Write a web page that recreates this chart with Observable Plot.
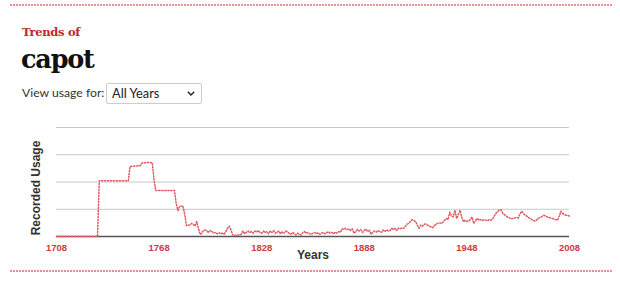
<!DOCTYPE html>
<html>
<head>
<meta charset="utf-8">
<script src="https://cdn.jsdelivr.net/npm/d3@7"></script>
<script src="https://cdn.jsdelivr.net/npm/@observablehq/plot@0.6"></script>
<style>
  html, body { margin: 0; padding: 0; background: #fff; }
  body { width: 620px; height: 282px; position: relative; overflow: hidden; }
  .rule { position: absolute; left: 10px; display: block; }
  .kicker { position: absolute; left: 22px; top: 27px; font-family: "DejaVu Serif", serif; font-weight: bold; font-size: 11.5px; line-height: 1; color: #c0272d; letter-spacing: -0.3px; }
  .word { position: absolute; left: 21px; top: 47px; font-family: "DejaVu Serif", serif; font-weight: bold; font-size: 25.5px; line-height: 1; color: #111; letter-spacing: -1.2px; }
  .view { position: absolute; left: 22px; top: 87px; font: 12.2px/1 Lato, "Open Sans", sans-serif; color: #333; }
  .sel { position: absolute; left: 106px; top: 83px; width: 94px; height: 19px; border: 1px solid #ccc; border-radius: 2px; background: #fff; box-sizing: content-box; font: 12.8px/19px Lato, "Open Sans", sans-serif; color: #222; }
  .sel span { position: absolute; left: 5px; top: 0; }
  .sel svg { position: absolute; right: 6px; top: 7px; }
  #chart { position: absolute; left: 0; top: 110px; }
</style>
</head>
<body>
<svg class="rule" style="top:4px" width="603" height="2"><line x1="0" y1="1" x2="603" y2="1" stroke="#d2202c" stroke-width="1.1" stroke-dasharray="2,1"/></svg>
<div class="kicker">Trends of</div>
<div class="word">capot</div>
<div class="view">View usage for:</div>
<div class="sel"><span>All Years</span><svg width="8" height="5" viewBox="0 0 8 5"><path d="M0.8 0.8 L4 4 L7.2 0.8" fill="none" stroke="#222" stroke-width="1.4"/></svg></div>
<div id="chart"></div>
<svg class="rule" style="top:270px" width="603" height="2"><line x1="0" y1="1" x2="603" y2="1" stroke="#d2202c" stroke-width="1.1" stroke-dasharray="2,1"/></svg>
<script>
const years = [1708,1732,1733,1750,1751,1757,1758,1763,1764,1765,1766,1777,1778,1779,1780,1782,1783,1784,1786,1787,1788,1789,1790,1791,1792,1793,1794,1795,1796,1797,1798,1799,1800,1801,1802,1803,1804,1805,1806,1807,1808,1809,1810,1811,1812,1813,1814,1815,1816,1817,1818,1819,1820,1821,1822,1823,1824,1825,1826,1827,1828,1829,1830,1831,1832,1833,1834,1835,1836,1837,1838,1839,1840,1841,1842,1843,1844,1845,1846,1847,1848,1849,1850,1851,1852,1853,1854,1855,1856,1857,1858,1859,1860,1861,1862,1863,1864,1865,1866,1867,1868,1869,1870,1871,1872,1873,1874,1875,1876,1877,1878,1879,1880,1881,1882,1883,1884,1885,1886,1887,1888,1889,1890,1891,1892,1893,1894,1895,1896,1897,1898,1899,1900,1901,1902,1903,1904,1905,1906,1907,1908,1909,1910,1911,1912,1913,1914,1915,1916,1917,1918,1919,1920,1921,1922,1923,1924,1925,1926,1927,1928,1929,1930,1931,1932,1933,1934,1935,1936,1937,1938,1939,1940,1941,1942,1943,1944,1945,1946,1947,1948,1949,1950,1951,1952,1953,1954,1955,1956,1957,1958,1959,1960,1961,1962,1963,1964,1965,1966,1967,1968,1969,1970,1971,1972,1973,1974,1975,1976,1977,1978,1979,1980,1981,1982,1983,1984,1985,1986,1987,1988,1989,1990,1991,1992,1993,1994,1995,1996,1997,1998,1999,2000,2001,2002,2003,2004,2005,2006,2007,2008];
const usage = [0,0,2.05,2.05,2.57,2.6,2.7,2.72,2.7,2.1,1.69,1.69,1.2,0.95,1.1,1.12,0.8,0.4,0.42,0.48,0.45,0.38,0.55,0.3,0.08,0.12,0.22,0.24,0.2,0.15,0.22,0.18,0.12,0.15,0.1,0.14,0.1,0.12,0.08,0.18,0.3,0.38,0.25,0.06,0.05,0.04,0.06,0.05,0.08,0.2,0.1,0.15,0.2,0.14,0.18,0.12,0.2,0.16,0.22,0.15,0.12,0.2,0.14,0.18,0.1,0.2,0.15,0.22,0.12,0.15,0.2,0.1,0.16,0.12,0.2,0.18,0.12,0.08,0.15,0.1,0.06,0.12,0.08,0.05,0.14,0.18,0.12,0.15,0.1,0.08,0.12,0.15,0.1,0.14,0.08,0.12,0.15,0.1,0.14,0.18,0.12,0.15,0.1,0.16,0.12,0.18,0.15,0.28,0.26,0.3,0.25,0.28,0.22,0.28,0.12,0.18,0.26,0.2,0.25,0.15,0.22,0.27,0.18,0.22,0.08,0.15,0.2,0.16,0.22,0.18,0.15,0.24,0.18,0.25,0.2,0.22,0.3,0.25,0.3,0.22,0.3,0.28,0.32,0.3,0.38,0.45,0.48,0.55,0.62,0.58,0.55,0.42,0.3,0.42,0.38,0.45,0.46,0.42,0.38,0.36,0.32,0.4,0.45,0.48,0.5,0.48,0.52,0.6,0.66,0.62,0.9,0.75,0.72,0.97,0.66,0.8,0.97,0.7,0.54,0.6,0.55,0.57,0.62,0.72,0.48,0.58,0.66,0.6,0.62,0.58,0.62,0.6,0.58,0.62,0.6,0.63,0.75,0.85,0.92,0.97,0.98,0.85,0.8,0.75,0.7,0.68,0.65,0.66,0.68,0.7,0.68,0.82,0.93,0.85,0.78,0.75,0.7,0.66,0.62,0.58,0.57,0.62,0.68,0.7,0.74,0.78,0.75,0.72,0.7,0.68,0.66,0.64,0.62,0.6,0.75,0.93,0.85,0.8,0.78,0.77,0.75];
const xTicks = [1708,1768,1828,1888,1948,2008];
const yGrid = [1,2,3,4];
const xLabel = "Years";
const yLabel = "Recorded Usage";

const data = years.map((year, i) => ({year, value: usage[i]}));

const chart = Plot.plot({
  width: 620,
  height: 160,
  marginLeft: 56,
  marginRight: 51,
  marginTop: 17,
  marginBottom: 34,
  style: {fontFamily: "Liberation Sans, Arial, sans-serif", background: "transparent", overflow: "visible"},
  x: {domain: [1708, 2008], ticks: xTicks, tickFormat: "d", label: null},
  y: {domain: [0, 4], axis: null},
  marks: [
    Plot.ruleY(yGrid, {stroke: "#c8c8c8", strokeWidth: 1}),
    Plot.ruleY([0], {stroke: "#555", strokeWidth: 1.5}),
    Plot.axisX({ticks: xTicks, tickFormat: "d", tickSize: 0, tickPadding: 8, fill: "#cc3a42", fontSize: 9.5, fontWeight: "bold", label: null}),
    Plot.line(data, {x: "year", y: "value", stroke: "#e05a60", strokeWidth: 1.5, strokeDasharray: "1.2,1.8"}),
    Plot.text([yLabel], {frameAnchor: "left", textAnchor: "middle", dx: -20, dy: 6, rotate: -90, fontSize: 12, fontWeight: "bold", fill: "#333"}),
    Plot.text([xLabel], {frameAnchor: "bottom", lineAnchor: "middle", dy: 19, fontSize: 12, fontWeight: "bold", fill: "#333"})
  ]
});
document.getElementById("chart").appendChild(chart);
</script>
</body>
</html>
